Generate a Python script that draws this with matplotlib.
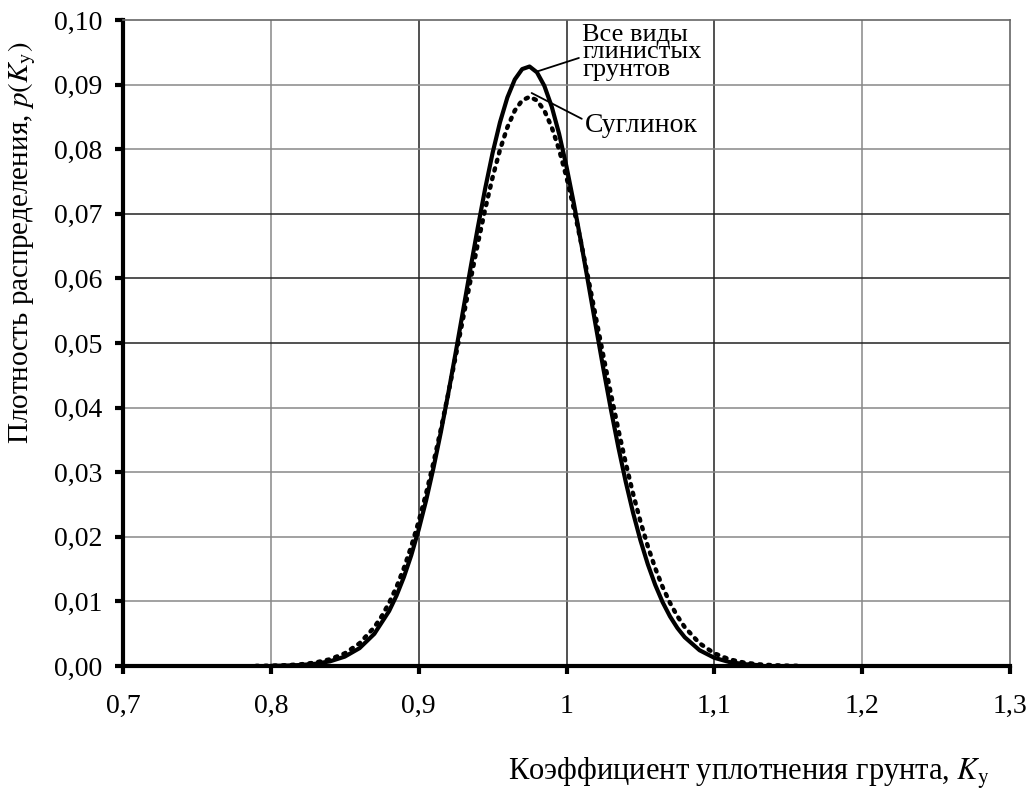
import matplotlib
matplotlib.use("Agg")
import matplotlib.pyplot as plt

plt.rcParams['font.family'] = ['Liberation Serif', 'DejaVu Serif']
plt.rcParams['mathtext.fontset'] = 'stix'

# Data
x_all = [0.80, 0.81, 0.82, 0.83, 0.84, 0.85, 0.86, 0.87, 0.88, 0.885, 0.89,
         0.895, 0.90, 0.905, 0.91, 0.915, 0.92, 0.925, 0.93, 0.935, 0.94,
         0.945, 0.95, 0.955, 0.96, 0.965, 0.97, 0.975, 0.98, 0.985, 0.99,
         0.995, 1.00, 1.005, 1.01, 1.015, 1.02, 1.025, 1.03, 1.035, 1.04,
         1.045, 1.05, 1.055, 1.06, 1.065, 1.07, 1.075, 1.08, 1.09,
         1.10, 1.11, 1.12, 1.13]
p_all = [0.0000258, 0.0000643, 0.000152, 0.000341, 0.000722, 0.001452, 0.002763,
         0.004981, 0.008509, 0.01090, 0.01377,
         0.01716, 0.02111, 0.02561, 0.03066, 0.03620, 0.04218, 0.04848, 0.05498,
         0.06151, 0.06789,
         0.07393, 0.07942, 0.08417, 0.08801, 0.09079, 0.09240, 0.09280, 0.09190,
         0.08981, 0.08659,
         0.08237, 0.07729, 0.07156, 0.06537, 0.05890, 0.05237, 0.04593, 0.03974,
         0.03393, 0.02857,
         0.02374, 0.01946, 0.01574, 0.01256, 0.00988, 0.007676, 0.005882,
         0.004447, 0.002439, 0.001268, 0.000624, 0.000291, 0.000129]

x_loam = [0.79, 0.80, 0.81, 0.82, 0.83, 0.84, 0.85, 0.86, 0.87, 0.875, 0.88,
          0.885, 0.89, 0.895, 0.90, 0.905, 0.91, 0.915, 0.92, 0.925, 0.93,
          0.935, 0.94, 0.945, 0.95, 0.955, 0.96, 0.965, 0.97, 0.975, 0.98,
          0.985, 0.99, 0.995, 1.00, 1.005, 1.01, 1.015, 1.02, 1.025, 1.03,
          1.035, 1.04, 1.045, 1.05, 1.055, 1.06, 1.065, 1.07, 1.075, 1.08,
          1.09, 1.10, 1.11, 1.12, 1.13, 1.14, 1.15, 1.16]
p_loam = [0.0000211, 0.0000506, 0.000116, 0.000253, 0.000525, 0.001039, 0.001957,
          0.003512, 0.006001, 0.007707, 0.009771,
          0.01224, 0.01515, 0.01853, 0.02238, 0.02669, 0.03147, 0.03665, 0.04216,
          0.04791, 0.05379,
          0.05965, 0.06537, 0.07075, 0.07565, 0.07992, 0.08340, 0.08598, 0.08756,
          0.08810, 0.08756,
          0.08598, 0.08340, 0.07992, 0.07565, 0.07075, 0.06537, 0.05965, 0.05379,
          0.04791, 0.04216,
          0.03665, 0.03147, 0.02669, 0.02238, 0.01853, 0.01515, 0.01224, 0.009771,
          0.007707, 0.006001,
          0.003512, 0.001957, 0.001039, 0.000525, 0.000253, 0.000116, 0.0000506,
          0.0000211]

x_ticks = [0.7, 0.8, 0.9, 1.0, 1.1, 1.2, 1.3]
x_tick_labels = ['0,7', '0,8', '0,9', '1', '1,1', '1,2', '1,3']
y_ticks = [0.00, 0.01, 0.02, 0.03, 0.04, 0.05, 0.06, 0.07, 0.08, 0.09, 0.10]
y_tick_labels = ['0,00', '0,01', '0,02', '0,03', '0,04', '0,05', '0,06',
                 '0,07', '0,08', '0,09', '0,10']

fig = plt.figure(figsize=(10.32, 7.94), dpi=100)
ax = fig.add_axes([0.1192, 0.1612, 0.8595, 0.8136])

# grid
for xv in x_ticks[1:-1]:
    c = '#222222' if xv in (0.9, 1.0, 1.1) else '#888888'
    ax.axvline(xv, color=c, lw=1.1, zorder=1)
for yv in y_ticks[1:-1]:
    c = '#222222' if yv in (0.05, 0.06, 0.07) else '#888888'
    ax.axhline(yv, color=c, lw=1.1, zorder=1)

ax.plot(x_loam, p_loam, color='black', lw=3.2, linestyle=(0, (0.5, 1.5)),
        dash_capstyle='round', zorder=3)
ax.plot(x_all, p_all, color='black', lw=3.0, zorder=4, solid_capstyle='round',
        solid_joinstyle='round')

ax.set_xlim(0.7, 1.3)
ax.set_ylim(0.0, 0.10)
ax.set_xticks(x_ticks)
ax.set_xticklabels(x_tick_labels)
ax.set_yticks(y_ticks)
ax.set_yticklabels(y_tick_labels)

for s in ('left', 'bottom'):
    ax.spines[s].set_linewidth(3)
for s in ('top', 'right'):
    ax.spines[s].set_linewidth(1.2)
    ax.spines[s].set_color('#666666')

ax.tick_params(axis='both', direction='out', length=6, width=3, labelsize=20,
               colors='black')
ax.tick_params(axis='x', pad=14)
ax.tick_params(axis='y', pad=9)

ax.set_ylabel('Плотность распределения, $p(K_{\\mathrm{y}})$', fontsize=21)
ax.yaxis.set_label_coords(-0.096, 0.655)
fig.text(0.959, 0.018, 'Коэффициент уплотнения грунта, $K_{\\mathrm{y}}$',
         fontsize=22, ha='right', va='baseline')

# annotations
ax.annotate('Все виды\nглинистых\nгрунтов', xy=(0.9797, 0.0920),
            xytext=(1.0108, 0.0950), fontsize=19, ha='left', va='center',
            linespacing=0.72,
            arrowprops=dict(arrowstyle='-', color='black', lw=1.3,
                            shrinkA=0, shrinkB=0, relpos=(-0.03, 0.4)))
ax.annotate('Суглинок', xy=(0.9764, 0.0887),
            xytext=(1.0122, 0.0837), fontsize=20, ha='left', va='center',
            arrowprops=dict(arrowstyle='-', color='black', lw=1.3,
                            shrinkA=0, shrinkB=0, relpos=(-0.02, 0.75)))

fig.savefig('out.png', dpi=100, facecolor='white')
